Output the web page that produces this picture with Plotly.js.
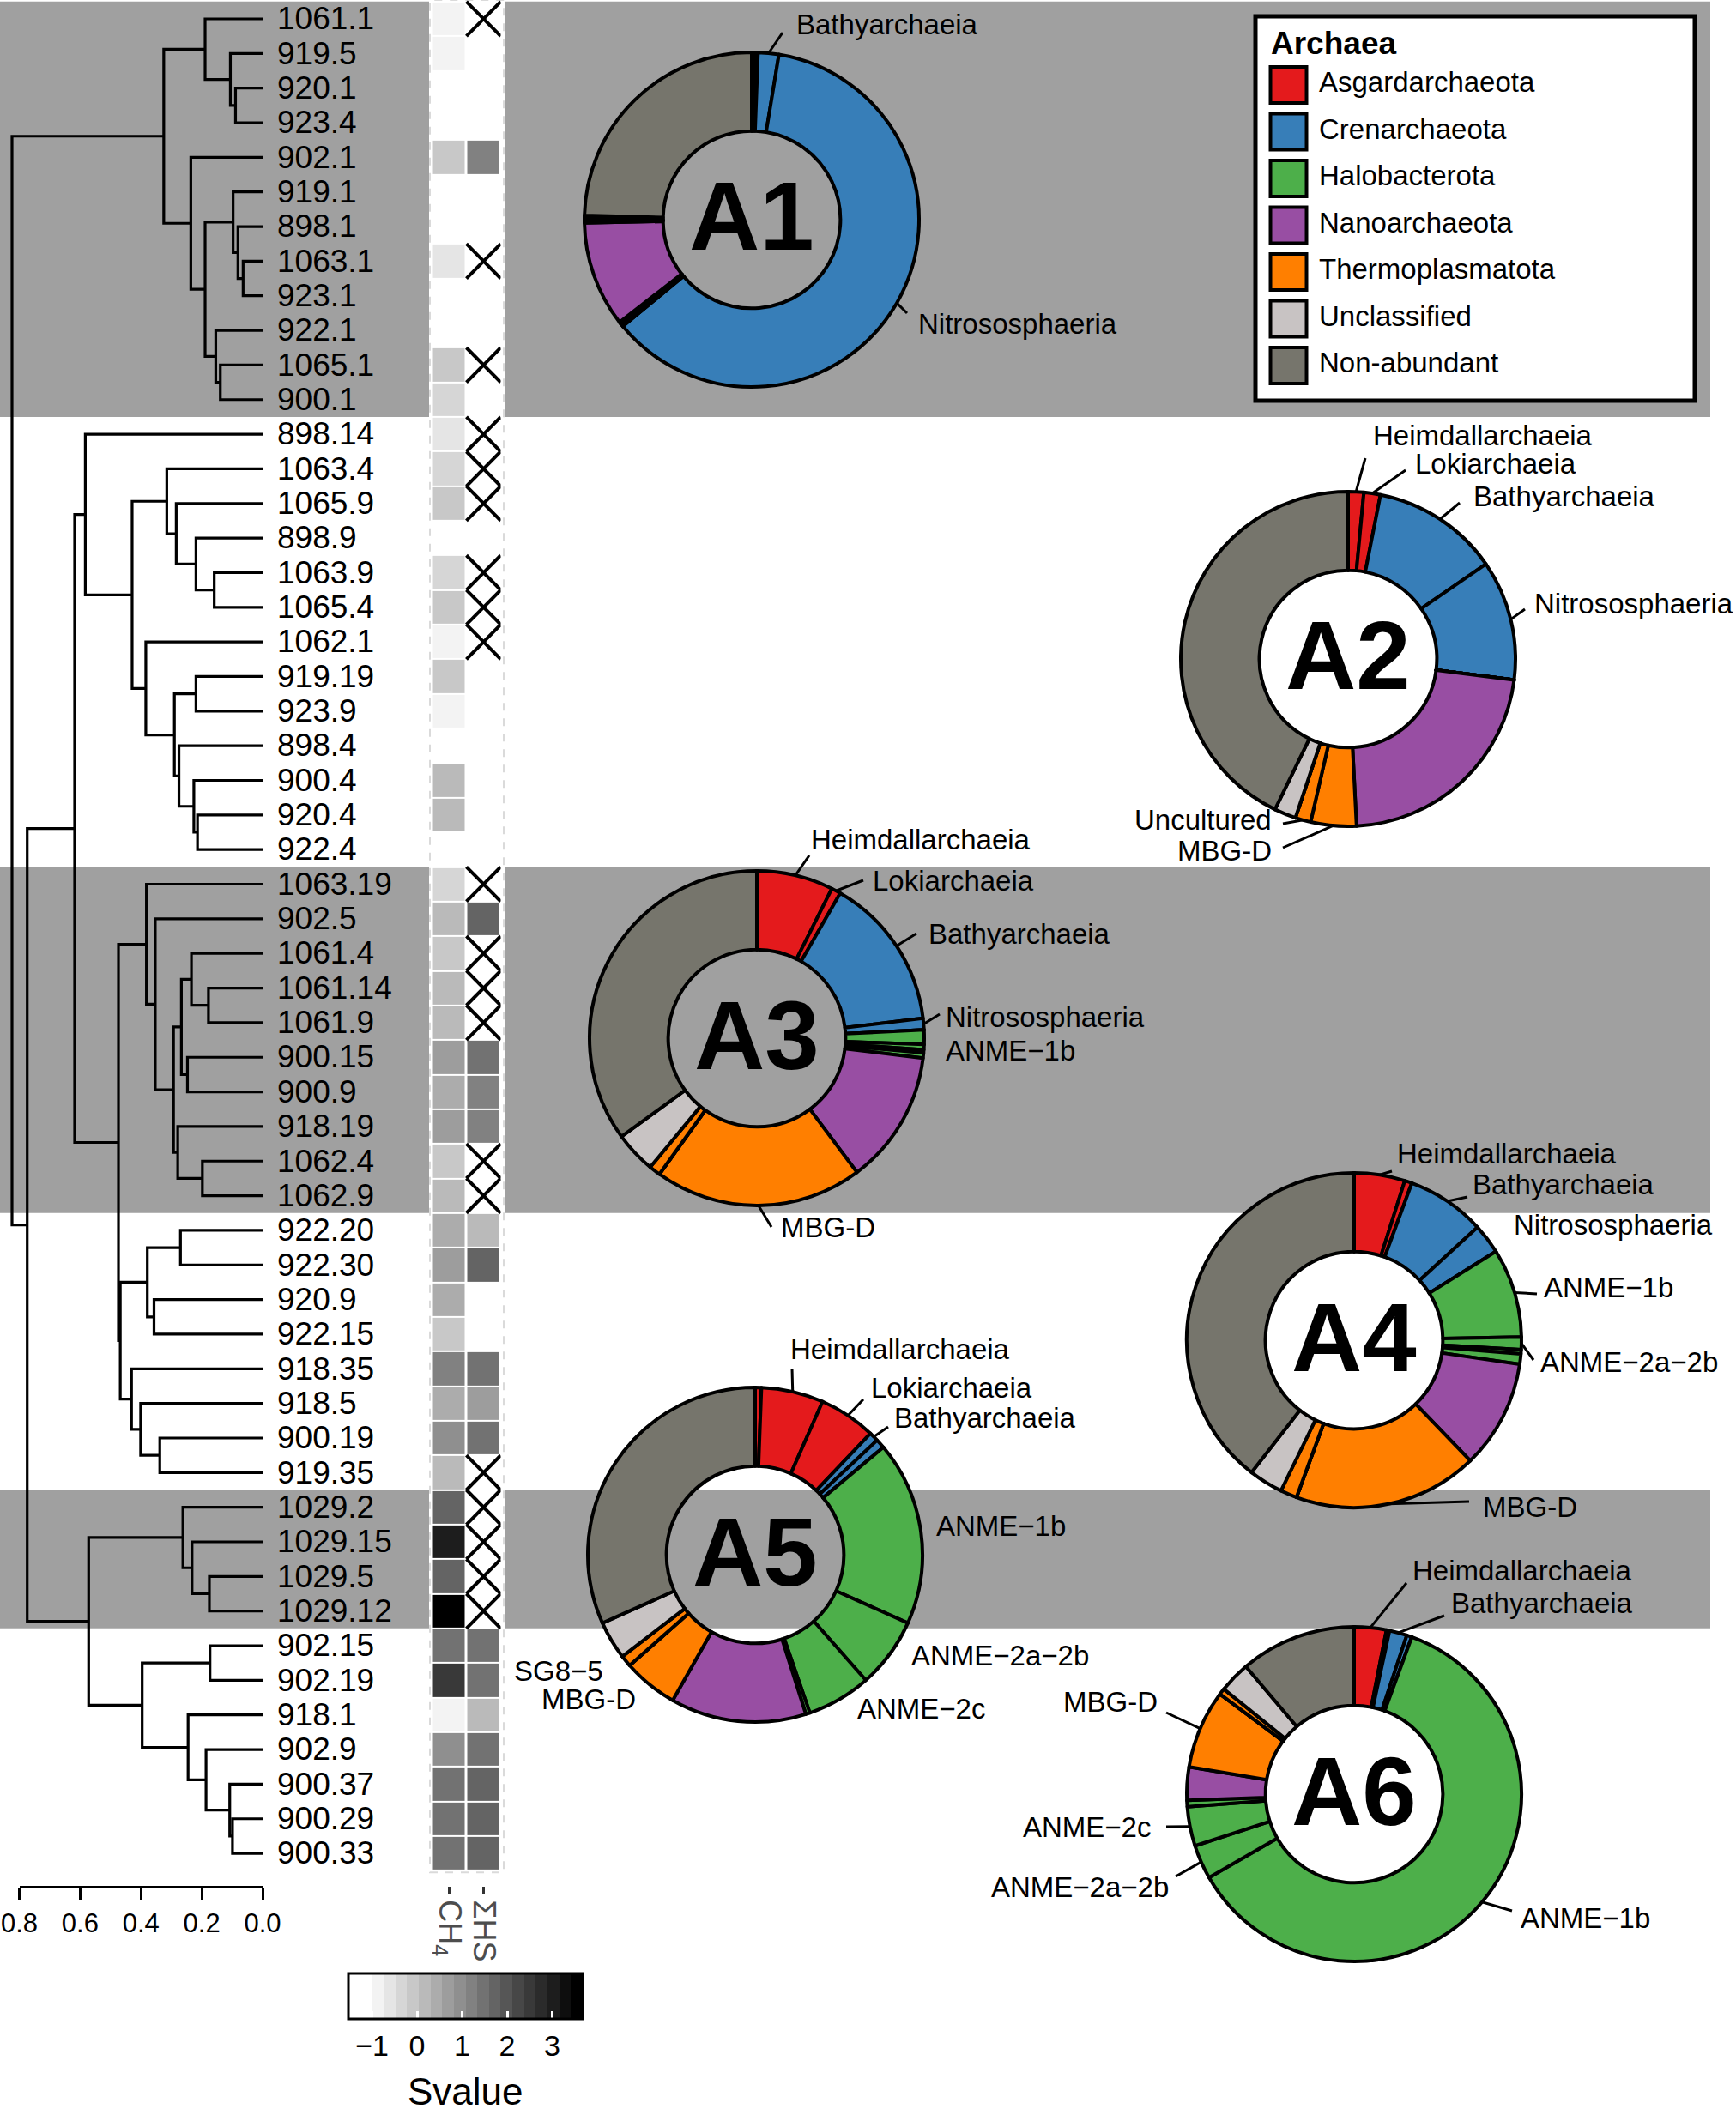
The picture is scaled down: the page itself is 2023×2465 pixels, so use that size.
<!DOCTYPE html>
<html><head><meta charset="utf-8">
<script src="https://cdn.plot.ly/plotly-3.0.1.min.js"></script>
<style>body{margin:0;padding:0;background:#fff}#chart{width:2023px;height:2465px}</style>
</head><body><div id="chart"></div>
<script>
const W = 2023, H = 2465;
const FONT = 'Liberation Sans, Arial, Helvetica, sans-serif';

// ---------------- data ----------------
const leaves = ['1061.1','919.5','920.1','923.4','902.1','919.1','898.1','1063.1','923.1','922.1','1065.1','900.1',
 '898.14','1063.4','1065.9','898.9','1063.9','1065.4','1062.1','919.19','923.9','898.4','900.4','920.4','922.4',
 '1063.19','902.5','1061.4','1061.14','1061.9','900.15','900.9','918.19','1062.4','1062.9',
 '922.20','922.30','920.9','922.15','918.35','918.5','900.19','919.35',
 '1029.2','1029.15','1029.5','1029.12',
 '902.15','902.19','918.1','902.9','900.37','900.29','900.33'];

const ch4 = [-0.83,-0.83,-1.3,-1.3,-0.05,-1.3,-1.3,-0.57,-1.3,-1.3,-0.05,-0.31,
 -0.57,-0.31,-0.05,-1.3,-0.31,-0.05,-0.83,-0.05,-0.83,-1.3,0.25,0.15,-1.3,
 -0.31,0.21,-0.05,0.21,0.1,0.7,0.47,0.6,-0.05,0.21,
 0.47,0.7,0.4,-0.05,1.2,0.4,1.0,0.21,
 1.75,3.0,1.75,3.6,
 1.5,2.55,-0.83,1.0,1.45,1.35,1.35];

const shs = [null,-1.3,-1.3,-1.3,1.25,-1.3,-1.3,null,-1.3,-1.3,null,-1.3,
 null,null,null,-1.3,null,null,null,-1.3,-1.3,-1.3,-1.3,-1.3,-1.3,
 null,1.7,null,null,null,1.5,1.2,1.1,null,null,
 0.21,1.7,-1.3,-1.3,1.5,0.7,1.5,null,
 null,null,null,null,
 1.45,1.5,0.1,1.45,1.7,1.6,1.6];

const clusterNames = ['A1','A2','A3','A4','A5','A6'];
const clusterSizes = [12,13,10,8,4,7];
const clusterShaded = [true,false,true,false,true,false];

// dendrogram nodes: [height, left, right]
const treeA1 = [0.325, [0.189,'1061.1',[0.106,'919.5',[0.089,'920.1','923.4']]],
  [0.236,'902.1',[0.189,[0.097,'919.1',[0.081,'898.1',[0.064,'1063.1','923.1']]],[0.154,'922.1',[0.139,'1065.1','900.1']]]]];
const treeA2 = [0.583,'898.14',[0.429,[0.315,'1063.4',[0.284,'1065.9',[0.219,'898.9',[0.159,'1063.9','1065.4']]]],
  [0.384,'1062.1',[0.290,[0.219,'919.19','923.9'],[0.275,'898.4',[0.226,'900.4',[0.214,'920.4','922.4']]]]]]];
const treeA3 = [0.382,'1063.19',[0.353,'902.5',[0.293,[0.267,[0.234,'1061.4',[0.178,'1061.14','1061.9']],[0.247,'900.15','900.9']],
  [0.279,'918.19',[0.198,'1062.4','1062.9']]]]];
const treeA4 = [0.468,[0.379,[0.270,'922.20','922.30'],[0.357,'920.9','922.15']],[0.431,'918.35',[0.401,'918.5',[0.338,'900.19','919.35']]]];
const treeA5 = [0.262,'1029.2',[0.232,'1029.15',[0.175,'1029.5','1029.12']]];
const treeA6 = [0.396,[0.173,'902.15','902.19'],[0.245,'918.1',[0.186,'902.9',[0.108,'900.37',[0.099,'900.29','900.33']]]]];
const tree = [0.824, treeA1, [0.774, [0.618, treeA2, [0.474, treeA3, treeA4]], [0.572, treeA5, treeA6]]];

const heightTicks = [0, 0.2, 0.4, 0.6, 0.8];
const svalueTicks = [-1, 0, 1, 2, 3];
const heatCols = ['CH<sub>4</sub>', 'ΣHS'];

const phyla = ['Asgardarchaeota','Crenarchaeota','Halobacterota','Nanoarchaeota','Thermoplasmatota','Unclassified','Non-abundant'];
const phylaColors = ['#E41A1C','#377EB8','#4DAF4A','#984EA3','#FF7F00','#C8C3C3','#76756C'];

const sliceNames = ['Other Asgardarchaeota','Heimdallarchaeia','Lokiarchaeia','Bathyarchaeia','Nitrososphaeria','Other Crenarchaeota',
 'ANME−1b','ANME−2a−2b','ANME−2c','Other Halobacterota','Nanoarchaeota','MBG-D','Uncultured','SG8−5','Other Thermoplasmatota',
 'Unclassified','Non-abundant'];
const slicePhylum = [0,0,0,1,1,1,2,2,2,2,3,4,4,4,4,5,6];

const A1_pct = [0,0.3,0.3,2.0,61.4,0,0.3,0.1,0,0.1,10.2,0.2,0,0,0.2,0.3,24.6];
const A2_pct = [0,1.5,1.6,12.3,11.6,0,0,0,0,0,22.2,4.4,1.5,0,0,2.1,42.8];
const A3_pct = [0,7.4,0.9,14.8,1.1,0,1.4,0.5,0.3,0.5,12.9,20.1,0,0,1.1,4.0,35.0];
const A4_pct = [0,4.9,0.7,7.6,2.9,0,8.6,1.2,0.4,1.0,10.5,17.8,0,0,1.6,3.3,39.5];
const A5_pct = [0.6,6.0,5.5,0.9,0.9,0,17.8,6.8,6.2,0.4,13.1,5.3,0,1.1,0,3.7,31.7];
const A6_pct = [0,3.1,0.3,1.7,0.5,0,61.1,3.3,3.8,0.6,3.2,7.6,0,0,0.6,3.0,11.2];
const donutPct = {A1:A1_pct, A2:A2_pct, A3:A3_pct, A4:A4_pct, A5:A5_pct, A6:A6_pct};

// ---------------- layout / style ----------------
const donutCenter = {A1:[876,256], A2:[1571,768], A3:[882,1210], A4:[1578,1562], A5:[880,1812], A6:[1578,2091]};
const R = 195;
// [slice, text x, text y, align, line tail x, line tail y]
const labelStyle = {
 A1: [['Bathyarchaeia',926,29,'left',912,38], ['Nitrososphaeria',1068,377,'left',1057,365]],
 A2: [['Heimdallarchaeia',1598,507,'left',1591,534], ['Lokiarchaeia',1647,541,'left',1638,548], ['Bathyarchaeia',1715,578,'left',1701,586],
      ['Nitrososphaeria',1786,703,'left',1777,710], ['Uncultured',1484,956,'right',1495,960], ['MBG-D',1484,991,'right',1495,988]],
 A3: [['Heimdallarchaeia',943,978,'left',943,997], ['Lokiarchaeia',1015,1026,'left',1006,1026], ['Bathyarchaeia',1080,1088,'left',1068,1088],
      ['Nitrososphaeria',1100,1185,'left',1095,1182], ['ANME−1b',1100,1224,'left',null,null], ['MBG-D',908,1430,'left',899,1430]],
 A4: [['Heimdallarchaeia',1626,1344,'left',1622,1365], ['Bathyarchaeia',1714,1380,'left',1710,1395], ['Nitrososphaeria',1762,1427,'left',null,null],
      ['ANME−1b',1797,1501,'left',1791,1508], ['ANME−2a−2b',1793,1587,'left',1787,1585], ['MBG-D',1726,1757,'left',1712,1750]],
 A5: [['Heimdallarchaeia',919,1573,'left',923,1595], ['Lokiarchaeia',1013,1617,'left',1006,1631], ['Bathyarchaeia',1040,1653,'left',1035,1663],
      ['ANME−1b',1089,1778,'left',null,null], ['ANME−2a−2b',1060,1929,'left',null,null], ['ANME−2c',997,1991,'left',null,null],
      ['SG8−5',705,1947,'right',null,null], ['MBG-D',743,1981,'right',null,null]],
 A6: [['Heimdallarchaeia',1644,1830,'left',1639,1845], ['Bathyarchaeia',1689,1868,'left',1683,1883], ['MBG-D',1351,1983,'right',1359,1996],
      ['ANME−2c',1343,2129,'right',1359,2129], ['ANME−2a−2b',1364,2199,'right',1370,2187], ['ANME−1b',1770,2235,'left',1762,2227]]
};

// leaf axis: leaf index -> pixel
const Y_LO = -0.545, Y_HI = 53.94, Y_BOT_PX = 2198;
const leafPx = i => (i - Y_LO) / (Y_HI - Y_LO) * Y_BOT_PX;
const PX_PER_LEAF = Y_BOT_PX / (Y_HI - Y_LO);
const LABEL_DROP = 3 / PX_PER_LEAF;   // small downward nudge of the leaf labels
const PX_PER_H = 354.375, LEAF_X = 306;

// ---------------- traces ----------------
const traces = [];

// dendrogram segments
const segX = [], segY = [];
function walk(node) {
  if (typeof node === 'string') return {y: leaves.indexOf(node), h: 0};
  const A = walk(node[1]), B = walk(node[2]);
  segX.push(A.h, node[0], node[0], B.h, null);
  segY.push(A.y, A.y, B.y, B.y, null);
  return {y: (A.y + B.y) / 2, h: node[0]};
}
walk(tree);
traces.push({type:'scatter', mode:'lines', x:segX, y:segY, xaxis:'x', yaxis:'y',
  line:{color:'#000', width:3.2}, hoverinfo:'skip', showlegend:false, cliponaxis:false});

// leaf labels
traces.push({type:'scatter', mode:'text', x:leaves.map(() => 0), y:leaves.map((_, i) => i), text:leaves,
  textposition:'middle right', textfont:{family:FONT, size:37, color:'#000'}, xaxis:'x3', yaxis:'y6',
  hoverinfo:'skip', showlegend:false, cliponaxis:false});

// heatmap
const cs = [];
for (let k = 0; k < 20; k++) {
  const g = k < 2 ? 255 : Math.round(243 * (19 - k) / 17);
  const c = 'rgb(' + g + ',' + g + ',' + g + ')';
  cs.push([k / 20, c], [(k + 1) / 20, c]);
}
traces.push({type:'heatmap', x:[0, 1], y:leaves.map((_, i) => i), z:leaves.map((_, i) => [ch4[i], shs[i]]),
  xaxis:'x2', yaxis:'y', zmin:-1.524, zmax:3.676, colorscale:cs, xgap:3, ygap:2, hoverinfo:'skip',
  colorbar:{orientation:'h', x:542.5 / W, xanchor:'center', y:1 - 2300 / H, yanchor:'top',
    len:273, lenmode:'pixels', thickness:53, thicknessmode:'pixels', xpad:0, ypad:0,
    outlinewidth:3, outlinecolor:'#000', tickvals:svalueTicks, ticktext:svalueTicks.map(v => v < 0 ? '−' + Math.abs(v) : String(v)),
    ticks:'inside', tickcolor:'#fff', ticklen:10, tickwidth:3,
    tickfont:{family:FONT, size:34, color:'#000'}}});

// missing value crosses
const crossX = [], crossY = [];
shs.forEach((v, i) => { if (v === null) { crossX.push(0.5, 1.5, null, 0.5, 1.5, null); crossY.push(i - 0.5, i + 0.5, null, i + 0.5, i - 0.5, null); } });
ch4.forEach((v, i) => { if (v === null) { crossX.push(-0.5, 0.5, null, -0.5, 0.5, null); crossY.push(i - 0.5, i + 0.5, null, i + 0.5, i - 0.5, null); } });
traces.push({type:'scatter', mode:'lines', x:crossX, y:crossY, xaxis:'x2', yaxis:'y',
  line:{color:'#000', width:4}, hoverinfo:'skip', showlegend:false, cliponaxis:false});

// dendrogram height axis (drawn on its own small subplot)
traces.push({type:'scatter', mode:'markers', x:[0.4], y:[0.5], xaxis:'x5', yaxis:'y5', marker:{opacity:0}, hoverinfo:'skip', showlegend:false});

// legend
traces.push({type:'scatter', mode:'markers', x:phyla.map(() => 22.5), y:phyla.map((_, i) => i), xaxis:'x4', yaxis:'y4',
  marker:{symbol:'square', size:42, color:phylaColors, line:{color:'#000', width:4}}, hoverinfo:'skip', showlegend:false, cliponaxis:false});
traces.push({type:'scatter', mode:'text', x:phyla.map(() => 58), y:phyla.map((_, i) => i), text:phyla, xaxis:'x4', yaxis:'y4',
  textposition:'middle right', textfont:{family:FONT, size:33, color:'#000'}, hoverinfo:'skip', showlegend:false, cliponaxis:false});

// donuts
const shapes = [];
const annotations = [];
clusterNames.forEach(name => {
  const pct = donutPct[name];
  const [cx, cy] = donutCenter[name];
  traces.push({type:'pie', values:pct, labels:sliceNames, sort:false, direction:'clockwise', rotation:0, hole:0.53,
    marker:{colors:slicePhylum.map(p => phylaColors[p]), line:{color:'#000', width:4}},
    textinfo:'none', hoverinfo:'skip', showlegend:false,
    domain:{x:[(cx - R) / W, (cx + R) / W], y:[1 - (cy + R) / H, 1 - (cy - R) / H]}});
  annotations.push({xref:'paper', yref:'paper', x:cx / W, y:1 - (cy - 4) / H, xanchor:'center', yanchor:'middle',
    text:'<b>' + name + '</b>', showarrow:false, font:{family:FONT, size:114, color:'#000'}});
  const tot = pct.reduce((a, b) => a + b, 0);
  labelStyle[name].forEach(([slice, tx, ty, align, lx, ly]) => {
    const idx = sliceNames.indexOf(slice);
    let cum = 0; for (let k = 0; k < idx; k++) cum += pct[k];
    const ang = (cum + pct[idx] / 2) / tot * 2 * Math.PI;
    const hx = cx + R * Math.sin(ang), hy = cy - R * Math.cos(ang);
    if (lx !== null) {
      shapes.push({type:'line', xref:'paper', yref:'paper', x0:lx / W, y0:1 - ly / H, x1:hx / W, y1:1 - hy / H,
        line:{color:'#000', width:3}, layer:'above'});
    }
    annotations.push({xref:'paper', yref:'paper', x:tx / W, y:1 - ty / H, xanchor:align, yanchor:'middle',
      text:slice, showarrow:false, font:{family:FONT, size:33, color:'#000'}});
  });
});

// cluster bands
let start = 0;
clusterSizes.forEach((n, c) => {
  if (clusterShaded[c]) {
    const y0 = leafPx(start - 0.5), y1 = leafPx(start + n - 0.5);
    [[0, 500], [588, 1993]].forEach(([a, b]) => shapes.unshift({type:'rect', xref:'paper', yref:'paper',
      x0:a / W, x1:b / W, y0:1 - y1 / H, y1:1 - Math.max(0, y0) / H, fillcolor:'#A0A0A0', line:{width:0}, layer:'below'}));
  }
  start += n;
});
// heatmap panel outline
shapes.push({type:'rect', xref:'paper', yref:'paper', x0:501 / W, x1:587 / W, y0:1 - leafPx(53.55) / H, y1:1,
  line:{color:'#DADADA', width:2, dash:'dash'}, fillcolor:'rgba(0,0,0,0)', layer:'below'});
// legend box
shapes.push({type:'rect', xref:'paper', yref:'paper', x0:1463 / W, x1:1975 / W, y0:1 - 467 / H, y1:1 - 19 / H,
  fillcolor:'#fff', line:{color:'#000', width:5}, layer:'below'});
annotations.push({xref:'paper', yref:'paper', x:1479 / W, y:1 - 50 / H, xanchor:'left', yanchor:'middle',
  text:'<b>Archaea</b>', showarrow:false, font:{family:FONT, size:37, color:'#000'}});
// colour bar title
annotations.push({xref:'paper', yref:'paper', x:542.5 / W, y:1 - 2437 / H, xanchor:'center', yanchor:'middle',
  text:'Svalue', showarrow:false, font:{family:FONT, size:44, color:'#000'}});

const hidden = {visible:false, showgrid:false, zeroline:false, fixedrange:true};
const LEG_ROW0 = 99, LEG_ROW = 54.5;
const layout = {
  width:W, height:H, margin:{l:0, r:0, t:0, b:0}, paper_bgcolor:'#fff', plot_bgcolor:'rgba(0,0,0,0)',
  showlegend:false, font:{family:FONT, color:'#000'},
  xaxis: Object.assign({}, hidden, {domain:[0, LEAF_X / W], range:[LEAF_X / PX_PER_H, 0], anchor:'y'}),
  yaxis: Object.assign({}, hidden, {domain:[1 - Y_BOT_PX / H, 1], range:[Y_HI, Y_LO], anchor:'x'}),
  yaxis6: Object.assign({}, hidden, {domain:[1 - Y_BOT_PX / H, 1], range:[Y_HI - LABEL_DROP, Y_LO - LABEL_DROP], anchor:'x3'}),
  xaxis2: {domain:[503.5 / W, 583.5 / W], range:[-0.5, 1.5], anchor:'y', showgrid:false, zeroline:false, showline:false,
    tickvals:[0, 1], ticktext:heatCols, tickangle:90, ticks:'outside', ticklen:8, tickwidth:3, tickcolor:'#333',
    tickfont:{family:FONT, size:36, color:'#4D4D4D'}},
  xaxis3: Object.assign({}, hidden, {domain:[323 / W, 500 / W], range:[0, 1], anchor:'y6'}),
  xaxis4: Object.assign({}, hidden, {domain:[1479 / W, 1975 / W], range:[0, 496], anchor:'y4'}),
  yaxis4: Object.assign({}, hidden, {domain:[1 - 443 / H, 1 - 60 / H], range:[(443 - LEG_ROW0) / LEG_ROW, (60 - LEG_ROW0) / LEG_ROW], anchor:'x4'}),
  xaxis5: {domain:[(LEAF_X - 0.8 * PX_PER_H) / W, LEAF_X / W], range:[0.8, 0], anchor:'y5', showgrid:false, zeroline:false,
    showline:true, linewidth:3, linecolor:'#000', ticks:'outside', ticklen:14, tickwidth:3, tickcolor:'#000',
    tickvals:heightTicks, ticktext:heightTicks.map(v => v.toFixed(1)), tickfont:{family:FONT, size:31, color:'#000'}},
  yaxis5: Object.assign({}, hidden, {domain:[1 - Y_BOT_PX / H, 1 - (Y_BOT_PX - 6) / H], range:[0, 1], anchor:'x5'}),
  shapes:shapes, annotations:annotations
};
Plotly.newPlot('chart', traces, layout, {staticPlot:true, displayModeBar:false});
</script></body></html>
